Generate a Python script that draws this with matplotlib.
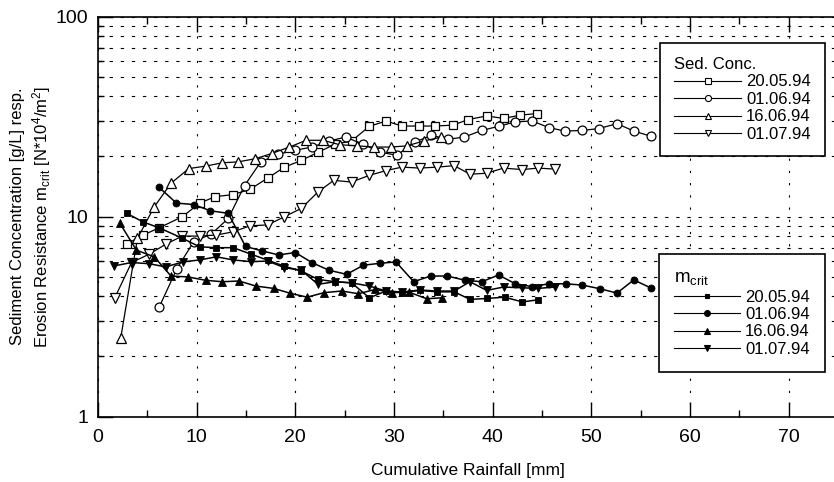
import matplotlib
matplotlib.use('Agg')
import matplotlib.pyplot as plt
from matplotlib.lines import Line2D
from matplotlib.ticker import LogLocator, NullFormatter, MultipleLocator, FixedLocator, FixedFormatter

plt.rcParams['font.family'] = ['Liberation Sans', 'DejaVu Sans']
plt.rcParams['mathtext.fontset'] = 'custom'
plt.rcParams['mathtext.rm'] = 'Liberation Sans'
plt.rcParams['mathtext.it'] = 'Liberation Sans:italic'
plt.rcParams['mathtext.bf'] = 'Liberation Sans:bold'

# ---------------- data ----------------
dates = ['20.05.94', '01.06.94', '16.06.94', '01.07.94']

sc_2005_x = [2.9, 4.6, 6.2, 8.55, 10.3, 11.9, 13.7, 15.4, 17.2, 18.9, 20.6, 22.3, 24.0, 25.7, 27.5,
             29.2, 30.8, 32.5, 34.2, 36.0, 37.5, 39.4, 41.1, 42.8, 44.5]
sc_2005_y = [7.3, 8.1, 8.8, 10.0, 11.7, 12.6, 12.9, 13.7, 15.6, 17.7, 19.1, 21.0, 23.0, 23.9, 28.3,
             30.1, 28.4, 28.4, 28.4, 28.7, 30.6, 31.9, 31.0, 32.2, 32.8]

sc_0106_x = [6.2, 8.0, 9.7, 11.5, 13.2, 14.85, 16.5, 18.2, 20.0, 21.7, 23.4, 25.1, 26.9, 28.6, 30.3,
             32.1, 33.8, 35.5, 37.1, 38.9, 40.6, 42.3, 44.0, 45.7, 47.3, 49.1, 50.8, 52.6, 54.3, 56.0]
sc_0106_y = [3.53, 5.5, 7.5, 8.2, 9.8, 14.3, 18.8, 20.5, 21.5, 22.3, 23.9, 25.0, 23.0, 21.0, 20.3,
             23.6, 25.5, 24.4, 25.0, 27.0, 28.3, 29.8, 30.1, 27.9, 26.8, 27.0, 27.6, 29.2, 26.8, 25.3]

sc_1606_x = [2.3, 4.0, 5.7, 7.4, 9.2, 10.9, 12.6, 14.2, 15.96, 17.6, 19.4, 21.1, 22.8, 24.5, 26.3,
             28.0, 29.7, 31.3, 33.0, 34.8]
sc_1606_y = [2.47, 7.8, 11.2, 14.7, 17.4, 17.9, 18.6, 18.8, 19.5, 20.7, 22.3, 24.1, 24.1, 22.9, 22.6,
             22.3, 22.3, 22.6, 23.9, 25.0]

sc_0107_x = [1.7, 3.4, 5.2, 6.9, 8.55, 10.3, 12.0, 13.7, 15.4, 17.2, 18.9, 20.6, 22.3, 23.9, 25.7,
             27.5, 29.2, 30.8, 32.6, 34.4, 36.1, 37.7, 39.4, 41.1, 43.0, 44.6, 46.3]
sc_0107_y = [3.93, 5.9, 6.5, 7.3, 8.0, 8.0, 8.1, 8.4, 9.0, 9.1, 10.0, 11.0, 13.3, 15.2, 14.9,
             16.1, 17.0, 17.7, 17.5, 17.7, 18.0, 16.3, 16.5, 17.5, 17.2, 17.5, 17.3]

mc_2005_x = [2.9, 4.6, 6.2, 8.55, 10.3, 12.0, 13.7, 15.5, 17.2, 18.9, 20.6, 22.3, 24.0, 25.7, 27.5,
             29.2, 30.8, 32.6, 34.4, 36.1, 37.7, 39.4, 41.2, 43.0, 44.6]
mc_2005_y = [10.4, 9.4, 8.8, 7.8, 7.07, 7.0, 7.0, 6.5, 6.06, 5.65, 5.35, 4.86, 4.73, 4.67, 3.93,
             4.25, 4.17, 4.28, 4.21, 4.21, 3.86, 3.90, 3.96, 3.75, 3.84]

mc_0106_x = [6.2, 7.95, 9.7, 11.4, 13.2, 14.95, 16.6, 18.3, 20.0, 21.7, 23.4, 25.2, 26.9, 28.6, 30.2,
             32.0, 33.7, 35.4, 37.2, 38.9, 40.6, 42.3, 44.0, 45.7, 47.4, 49.1, 50.9, 52.6, 54.3, 56.0]
mc_0106_y = [14.0, 11.7, 11.5, 10.7, 10.4, 7.1, 6.75, 6.44, 6.62, 5.89, 5.4, 5.15, 5.72, 5.85, 5.94,
             4.73, 5.05, 5.05, 4.81, 4.73, 5.11, 4.62, 4.47, 4.62, 4.62, 4.55, 4.36, 4.15, 4.83, 4.41]

mc_1606_x = [2.2, 3.9, 5.7, 7.4, 9.1, 10.9, 12.6, 14.3, 16.0, 17.8, 19.5, 21.2, 22.9, 24.7, 26.4,
             28.1, 29.8, 31.5, 33.3, 34.9]
mc_1606_y = [9.3, 6.8, 6.3, 5.05, 5.0, 4.81, 4.73, 4.77, 4.5, 4.38, 4.14, 3.96, 4.17, 4.25, 4.12,
             4.33, 4.17, 4.2, 3.89, 3.93]

mc_0107_x = [1.6, 3.4, 5.2, 6.85, 8.6, 10.3, 12.0, 13.7, 15.5, 17.2, 18.9, 20.6, 22.3, 24.0, 25.7,
             27.5, 29.2, 30.8, 32.6, 34.4, 36.1, 37.7, 39.4, 41.1, 43.0, 44.6, 46.3]
mc_0107_y = [5.67, 5.9, 5.82, 5.61, 5.94, 6.08, 6.30, 6.08, 5.96, 6.0, 5.56, 5.40, 4.59, 4.73, 4.67,
             4.5, 4.25, 4.2, 4.3, 4.25, 4.25, 4.73, 4.28, 4.45, 4.41, 4.38, 4.45]

x_ticks = [0, 10, 20, 30, 40, 50, 60, 70]
y_ticks = [1, 10, 100]
y_ticklabels = ['1', '10', '100']

# ---------------- figure ----------------
W, H = 834, 482
fig = plt.figure(figsize=(W / 100, H / 100), dpi=100)
ax = fig.add_axes([98 / W, (H - 416.7) / H, 740 / W, 400 / H])

sed = [(sc_2005_x, sc_2005_y, 's', 5.6), (sc_0106_x, sc_0106_y, 'o', 6.4),
       (sc_1606_x, sc_1606_y, '^', 6.6), (sc_0107_x, sc_0107_y, 'v', 6.6)]
mcr = [(mc_2005_x, mc_2005_y, 's', 4.2), (mc_0106_x, mc_0106_y, 'o', 5.0),
       (mc_1606_x, mc_1606_y, '^', 5.4), (mc_0107_x, mc_0107_y, 'v', 5.4)]

for xs, ys, m, ms in sed:
    ax.plot(xs, ys, color='black', lw=0.9, marker=m, ms=ms, mfc='white', mec='black', mew=0.9, zorder=3)
for xs, ys, m, ms in mcr:
    ax.plot(xs, ys, color='black', lw=1.1, marker=m, ms=ms, mfc='black', mec='black', mew=0.6, zorder=4)

ax.set_yscale('log')
ax.set_xlim(0, 75)
ax.set_ylim(1, 100)

ax.xaxis.set_major_locator(FixedLocator(x_ticks))
ax.xaxis.set_minor_locator(MultipleLocator(5))
ax.yaxis.set_major_locator(FixedLocator(y_ticks))
ax.yaxis.set_major_formatter(FixedFormatter(y_ticklabels))
ax.yaxis.set_minor_locator(LogLocator(base=10, subs=range(2, 10)))
ax.yaxis.set_minor_formatter(NullFormatter())

ax.tick_params(which='major', direction='in', length=11, width=1.0, top=True, right=False,
               labelsize=14, pad=9)
ax.tick_params(which='minor', direction='in', length=5, width=1.0, top=True, right=False)
ax.tick_params(axis='y', which='minor', length=4)
ax.tick_params(axis='y', which='major', pad=7)

for s in ax.spines.values():
    s.set_linewidth(1.2)

ax.grid(True, axis='x', which='major', color='black', lw=0.8, linestyle=(0, (2, 9)))
ax.grid(True, axis='y', which='both', color='black', lw=0.8, linestyle=(0, (3, 7)))
for gl in ax.get_xgridlines() + ax.get_ygridlines():
    gl.set_zorder(1)

ax.set_xlabel('Cumulative Rainfall [mm]', fontsize=12.5, labelpad=12)
ax.set_ylabel('Sediment Concentration [g/L] resp.\n'
              r'Erosion Resistance $\mathregular{m_{crit}}$ [N*10$^\mathregular{4}$/m$^\mathregular{2}$]',
              fontsize=12, labelpad=2, linespacing=1.3)

# ---------------- legends ----------------
def handles(markers, filled, sizes):
    hs = []
    for m, s in zip(markers, sizes):
        hs.append(Line2D([], [], color='black', lw=0.8, marker=m, ms=s,
                         mfc='black' if filled else 'white', mec='black', mew=0.8))
    return hs

common = dict(loc='upper right', bbox_transform=fig.transFigure, borderaxespad=0,
              fontsize=12, handlelength=4.0, handletextpad=0.3,
              numpoints=1, fancybox=False, framealpha=1,
              edgecolor='black', alignment='left', labelspacing=0.15)

leg1 = ax.legend(handles(['s', 'o', '^', 'v'], False, [4.0, 4.4, 4.8, 4.8]), dates,
                 title='Sed. Conc.', bbox_to_anchor=(825 / W, 1 - 42.7 / H),
                 title_fontsize=12, borderpad=0.85, **common)
leg1.get_frame().set_linewidth(1.2)
ax.add_artist(leg1)

leg2 = ax.legend(handles(['s', 'o', '^', 'v'], True, [3.0, 4.2, 4.4, 4.4]), dates,
                 title=r'$\mathregular{m_{crit}}$', bbox_to_anchor=(825 / W, 1 - 254 / H),
                 title_fontsize=13.5, borderpad=0.9, **common)
leg2.get_frame().set_linewidth(1.2)
for leg in (leg1, leg2):
    leg.set_zorder(10)

fig.savefig('out.png', dpi=100)
